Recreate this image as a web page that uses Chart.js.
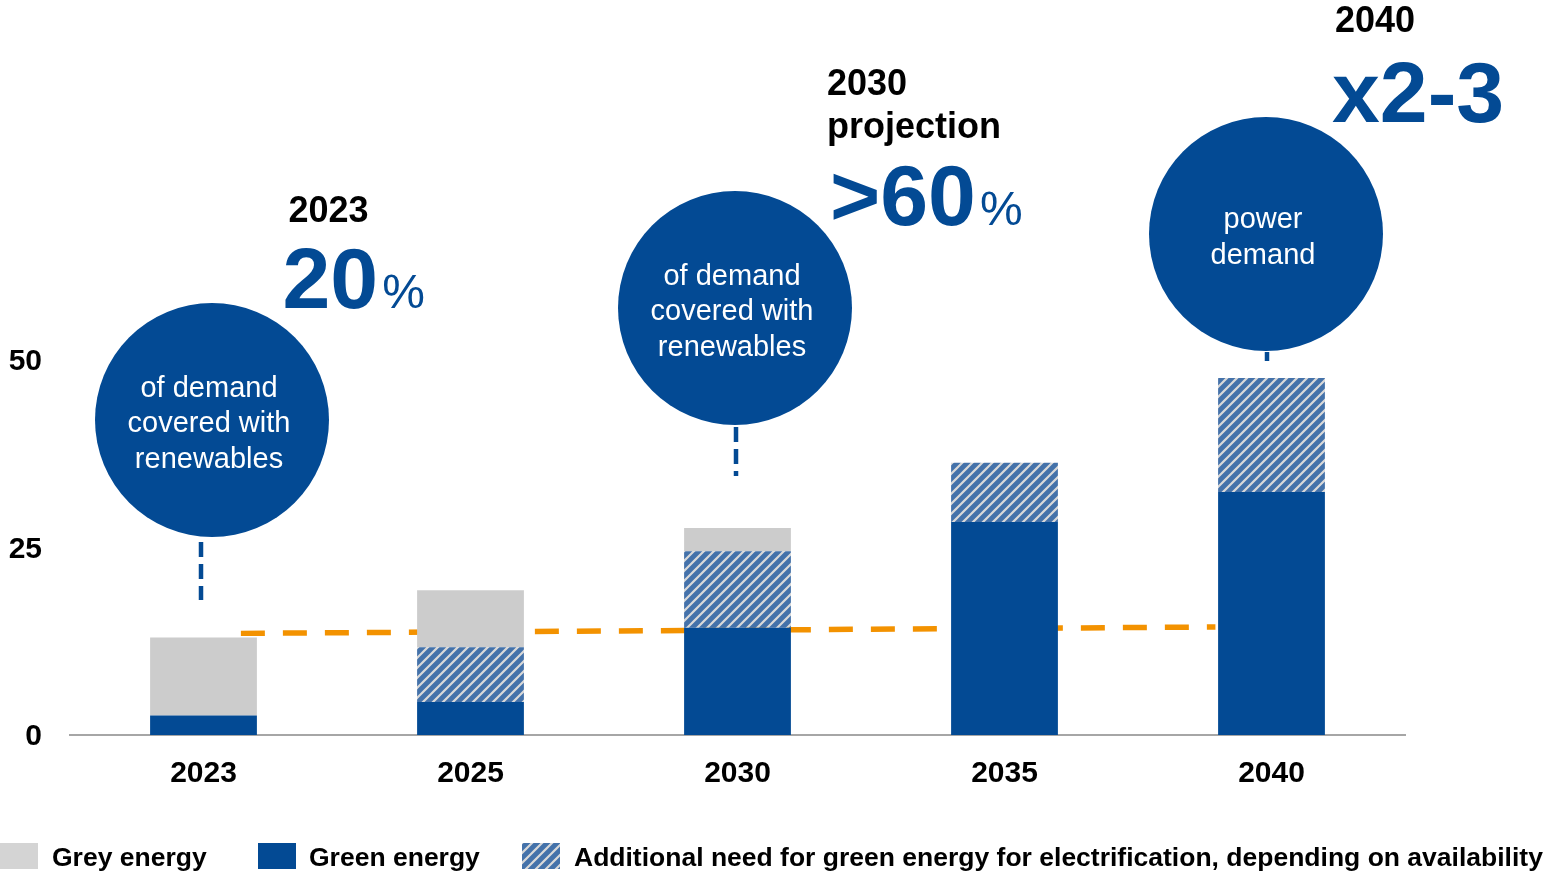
<!DOCTYPE html>
<html>
<head>
<meta charset="utf-8">
<script src="https://cdn.jsdelivr.net/npm/chart.js@4.4.1/dist/chart.umd.min.js"></script>
<style>
  body { margin: 0; background: #fff; }
  #wrap { width: 1555px; height: 873px; }
</style>
</head>
<body>
<div id="wrap"><canvas id="myChart" width="1555" height="873"></canvas></div>
<script>
// data
var years = ['2023', '2025', '2030', '2035', '2040'];
var greenEnergy = [2.6, 4.4, 14.3, 28.4, 32.4];
var additionalNeed = [0, 7.3, 10.2, 7.9, 15.2];
var greyEnergy = [10.4, 7.6, 3.1, 0, 0];
// orange dashed line (position on category index axis, value)
var demandLineX = [0.14, 3.79];
var demandLineY = [13.55, 14.4];
var yTicks = [0, 25, 50];

var BLUE = '#034A94';
var GREY = '#CCCCCC';
var FONT = "'Liberation Sans', Arial, sans-serif";

// hatch pattern for "additional need"
function makeHatch() {
    var s = 10;
    var c = document.createElement('canvas');
    c.width = s; c.height = s;
    var g = c.getContext('2d');
    g.fillStyle = '#D9D9D9';
    g.fillRect(0, 0, s, s);
    g.strokeStyle = '#4472AA';
    g.lineWidth = 4.8;
    g.beginPath();
    [-s, 0, s].forEach(function (k) {
        g.moveTo(k - 2, s + 2);
        g.lineTo(k + s + 2, -2);
    });
    g.stroke();
    return g.createPattern(c, 'repeat');
}
var hatch = makeHatch();

// circles + headline texts
var bubbles = [
    { idx: 0, dx: 8.5, cy: 420, lines: ['of demand', 'covered with', 'renewables'], lineX: -2.5, lineTop: 542, lineBottom: 600 },
    { idx: 2, dx: -2.5, cy: 308, lines: ['of demand', 'covered with', 'renewables'], lineX: -1.5, lineTop: 427, lineBottom: 476 },
    { idx: 4, dx: -5.5, cy: 234, lines: ['power', 'demand'], lineX: -4.5, lineTop: 352, lineBottom: 361 }
];
var headlines = [
    { idx: 0, dx: 85, small: ['2023'], smallBase: [222], big: '20', pct: true, bigDx: 79, bigBase: 308 },
    { idx: 2, dx: 89.5, small: ['2030', 'projection'], smallBase: [95, 138], big: '>60', pct: true, bigDx: 92.5, bigBase: 225 },
    { idx: 4, dx: 63.5, small: ['2040'], smallBase: [32], big: 'x2-3', pct: false, bigDx: 60.5, bigBase: 122 }
];

var annotations = {
    id: 'annotations',
    afterDraw: function (chart) {
        var c = chart.ctx;
        var xs = chart.scales.x;
        c.save();
        bubbles.forEach(function (b) {
            var bx = xs.getPixelForValue(b.idx);
            var cx = bx + b.dx;
            // dashed connector
            c.strokeStyle = BLUE;
            c.lineWidth = 4.5;
            c.setLineDash([15, 7]);
            c.beginPath();
            c.moveTo(bx + b.lineX, b.lineTop);
            c.lineTo(bx + b.lineX, b.lineBottom);
            c.stroke();
            c.setLineDash([]);
            // circle
            c.fillStyle = BLUE;
            c.beginPath();
            c.arc(cx, b.cy, 117, 0, Math.PI * 2);
            c.fill();
            // text
            c.fillStyle = '#FFFFFF';
            c.font = '29px ' + FONT;
            c.textAlign = 'center';
            c.textBaseline = 'alphabetic';
            var n = b.lines.length;
            b.lines.forEach(function (t, i) {
                c.fillText(t, cx - 3, b.cy + 12 + (i - (n - 1) / 2) * 35.5);
            });
        });
        headlines.forEach(function (h) {
            var bx = xs.getPixelForValue(h.idx);
            c.textAlign = 'left';
            c.textBaseline = 'alphabetic';
            c.fillStyle = '#000000';
            c.font = 'bold 36px ' + FONT;
            h.small.forEach(function (t, i) {
                c.fillText(t, bx + h.dx, h.smallBase[i]);
            });
            c.fillStyle = BLUE;
            c.font = 'bold 86px ' + FONT;
            c.fillText(h.big, bx + h.bigDx, h.bigBase);
            if (h.pct) {
                var w = c.measureText(h.big).width;
                c.font = '48px ' + FONT;
                c.fillText('%', bx + h.bigDx + w + 4, h.bigBase);
            }
        });
        c.restore();
    }
};

// bottom legend
var bottomLegend = {
    id: 'bottomLegend',
    afterDraw: function (chart) {
        var c = chart.ctx;
        var items = [
            { box: 0, text: 52, fill: '#D4D4D4', label: 'Grey energy' },
            { box: 258, text: 309, fill: BLUE, label: 'Green energy' },
            { box: 522, text: 574, fill: hatch, label: 'Additional need for green energy for electrification, depending on availability' }
        ];
        c.save();
        items.forEach(function (it) {
            c.fillStyle = it.fill;
            c.fillRect(it.box, 843, 38, 26);
            c.fillStyle = '#000000';
            c.font = 'bold 26.5px ' + FONT;
            c.textAlign = 'left';
            c.textBaseline = 'alphabetic';
            c.fillText(it.label, it.text, 866);
        });
        c.restore();
    }
};

var ctx = document.getElementById('myChart');

var data = {
    labels: years,
    datasets: [
        {
            type: 'line',
            label: 'Demand',
            data: demandLineX.map(function (x, i) { return { x: x, y: demandLineY[i] }; }),
            xAxisID: 'x2',
            borderColor: '#F39200',
            borderWidth: 5.5,
            borderDash: [24, 18],
            pointRadius: 0,
            fill: false,
            order: 10
        },
        {
            label: 'Green energy',
            data: greenEnergy,
            backgroundColor: BLUE,
            order: 1
        },
        {
            label: 'Additional need for green energy for electrification, depending on availability',
            data: additionalNeed,
            backgroundColor: hatch,
            order: 1
        },
        {
            label: 'Grey energy',
            data: greyEnergy,
            backgroundColor: GREY,
            order: 1
        }
    ]
};

var options = {
    responsive: false,
    animation: false,
    layout: { padding: { top: 360, right: 150, bottom: 68, left: 0 } },
    datasets: { bar: { categoryPercentage: 1, barPercentage: 0.4, grouped: false } },
    plugins: {
        legend: { display: false },
        tooltip: { enabled: false }
    },
    scales: {
        x: {
            stacked: true,
            grid: { display: false, drawTicks: false },
            border: { display: true, color: '#A6A6A6', width: 2 },
            ticks: { color: '#000', padding: 21, font: { family: FONT, size: 30, weight: 'bold' } },
            afterFit: function (s) { s.height = 70; }
        },
        x2: {
            type: 'linear',
            display: false,
            offset: false,
            min: -0.5,
            max: 4.5
        },
        y: {
            stacked: true,
            min: 0,
            max: 50,
            grid: { display: false, drawTicks: false },
            border: { display: false },
            afterBuildTicks: function (s) { s.ticks = yTicks.map(function (v) { return { value: v }; }); },
            ticks: { color: '#000', padding: 28, labelOffset: 2, font: { family: FONT, size: 30, weight: 'bold' } },
            afterFit: function (s) { s.width = 70; }
        }
    }
};

var myChart = new Chart(ctx, {
    type: 'bar',
    data: data,
    options: options,
    plugins: [annotations, bottomLegend]
});
</script>
</body>
</html>
